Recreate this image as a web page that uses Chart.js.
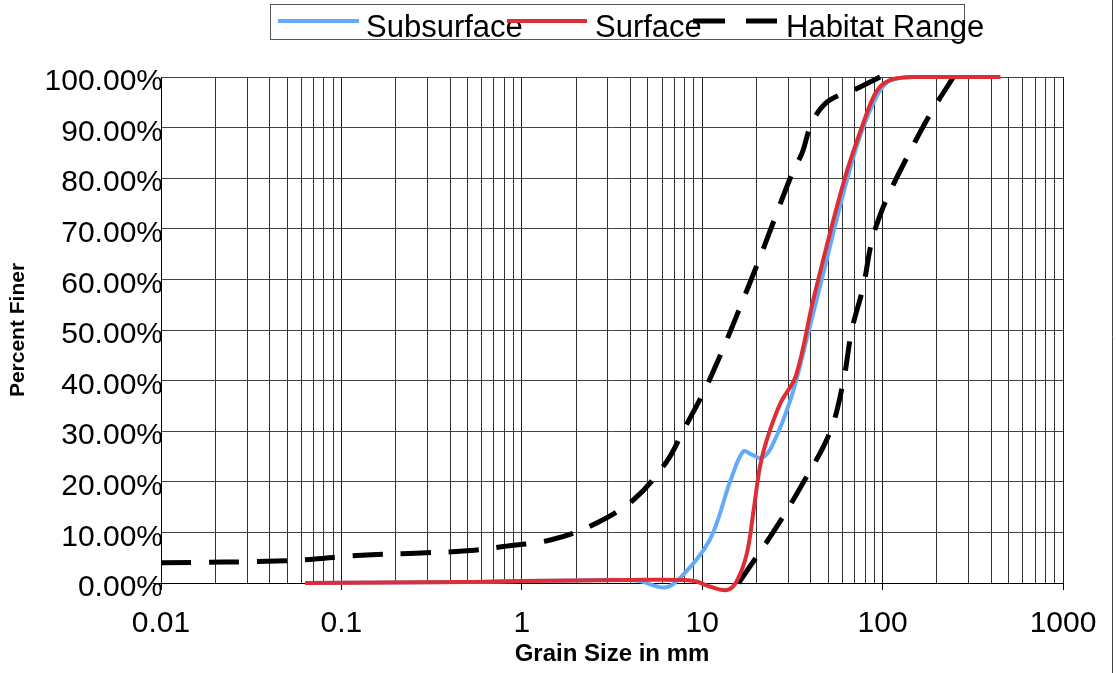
<!DOCTYPE html>
<html>
<head>
<meta charset="utf-8">
<title>Grain Size Distribution</title>
<script src="https://cdn.jsdelivr.net/npm/chart.js@4.4.1/dist/chart.umd.min.js"></script>
<style>
  html, body { margin: 0; padding: 0; background: #ffffff; overflow: hidden; }
  #wrap { width: 1116px; height: 673px; position: relative; }
  canvas { display: block; }
</style>
</head>
<body>
<div id="wrap"><canvas id="chart" width="1116" height="673"></canvas></div>
<script>
// Grain size (mm) and cumulative percent finer for each gradation curve
const subsurfaceSize = [0.063, 0.5, 1, 2, 4.3, 6.2, 7.5, 11, 14.4, 16.9, 19, 21.4, 24.3, 31.3, 38.7, 49, 60.7, 75, 92.7, 110, 150, 256];
const subsurfacePct  = [0, 0.2, 0.4, 0.5, 0.5, -0.9, 0.9, 8.5, 20.4, 26, 25.3, 24.7, 27, 36.9, 49.4, 63.9, 77.1, 88.3, 96.2, 99.3, 100, 100];

const surfaceSize = [0.063, 0.5, 1, 2, 4, 7.9, 9.3, 11, 13.7, 15.5, 17.7, 19.4, 20.9, 22.8, 27.1, 33.1, 41.3, 60.7, 78.2, 92.7, 110, 155, 450];
const surfacePct  = [0, 0.2, 0.4, 0.5, 0.6, 0.6, 0.3, -0.7, -1.4, 0.3, 5.9, 15.1, 23, 28.3, 35.5, 41, 56, 79.1, 90.9, 97.2, 99.4, 100, 100];

// Habitat range envelope: fine limit and coarse limit
const habitatFineSize = [0.01, 0.05, 0.13, 0.26, 0.52, 0.79, 1.44, 2.39, 4.15, 6.36, 7.8, 11, 20, 31.3, 35.8, 40.5, 49.8, 71.8, 96.8];
const habitatFinePct  = [4.0, 4.4, 5.5, 5.9, 6.4, 7.2, 8.5, 11.2, 16.4, 24, 29.9, 40.2, 62.6, 80.7, 85, 90.9, 95.2, 97.7, 100];

const habitatCoarseSize = [15.9, 24.8, 34.8, 51.2, 60.7, 67.5, 78.2, 85.1, 90.7, 105, 136, 183, 247];
const habitatCoarsePct  = [0, 10.1, 18.7, 29.9, 40, 50, 58.6, 65.9, 69.8, 75.8, 84, 92.6, 100];

// Axis tick labels
const xTickLabels = ['0.01', '0.1', '1', '10', '100', '1000'];
const yTickLabels = ['0.00%', '10.00%', '20.00%', '30.00%', '40.00%', '50.00%', '60.00%', '70.00%', '80.00%', '90.00%', '100.00%'];

const BLUE = '#64aafa';
const RED = '#de2d34';
const FONT = '"Liberation Sans", Arial, sans-serif';

const toPoints = (xs, ys) => xs.map((x, i) => ({ x: x, y: ys[i] }));
const isDecade = v => Math.abs(Math.log10(v) - Math.round(Math.log10(v))) < 1e-9;

const lineStyle = {
  showLine: true,
  pointRadius: 0,
  pointHoverRadius: 0,
  fill: false,
  clip: false,
  tension: 0.35
};

// Draws the boxed legend along the top and the outer frame line
const legendAndFrame = {
  id: 'legendAndFrame',
  afterDraw(chart) {
    const ctx = chart.ctx;
    ctx.save();

    // right frame line
    ctx.strokeStyle = '#444';
    ctx.lineWidth = 1;
    ctx.beginPath();
    ctx.moveTo(1112.5, 0);
    ctx.lineTo(1112.5, 673);
    ctx.stroke();

    // legend box
    ctx.strokeStyle = '#555';
    ctx.strokeRect(270.5, 4.5, 694, 35);

    const entries = [
      { ds: chart.data.datasets[0], x0: 278, x1: 359, tx: 366 },
      { ds: chart.data.datasets[1], x0: 507, x1: 587, tx: 595 },
      { ds: chart.data.datasets[2], x0: 693, x1: 777, tx: 786 }
    ];
    ctx.font = '31px ' + FONT;
    ctx.textBaseline = 'alphabetic';
    ctx.textAlign = 'left';
    entries.forEach(e => {
      ctx.strokeStyle = e.ds.borderColor;
      ctx.lineWidth = e.ds.borderWidth;
      ctx.setLineDash(e.ds.borderDash ? [32, 21] : []);
      ctx.lineCap = 'butt';
      ctx.beginPath();
      ctx.moveTo(e.x0, 21);
      ctx.lineTo(e.x1, 21);
      ctx.stroke();
      ctx.setLineDash([]);
      ctx.fillStyle = '#000';
      ctx.fillText(e.ds.label, e.tx, 37);
    });
    ctx.restore();
  }
};

new Chart(document.getElementById('chart'), {
  type: 'scatter',
  data: {
    datasets: [
      Object.assign({
        label: 'Subsurface',
        data: toPoints(subsurfaceSize, subsurfacePct),
        borderColor: BLUE,
        borderWidth: 4,
        order: 2
      }, lineStyle),
      Object.assign({
        label: 'Surface',
        data: toPoints(surfaceSize, surfacePct),
        borderColor: RED,
        borderWidth: 4,
        order: 1
      }, lineStyle),
      Object.assign({
        label: 'Habitat Range',
        data: toPoints(habitatFineSize, habitatFinePct),
        borderColor: '#000',
        borderWidth: 5,
        borderDash: [30, 18],
        order: 3
      }, lineStyle),
      Object.assign({
        label: 'Habitat Range',
        data: toPoints(habitatCoarseSize, habitatCoarsePct),
        borderColor: '#000',
        borderWidth: 5,
        borderDash: [30, 18],
        order: 4
      }, lineStyle)
    ]
  },
  options: {
    responsive: false,
    animation: false,
    devicePixelRatio: 1,
    events: [],
    layout: { padding: { top: 77, right: 53, left: 0, bottom: 0 } },
    plugins: {
      legend: { display: false },
      tooltip: { enabled: false }
    },
    scales: {
      x: {
        type: 'logarithmic',
        min: 0.01,
        max: 1000,
        afterBuildTicks(scale) {
          const ticks = [];
          for (let e = -2; e <= 3; e++) {
            for (let m = 1; m <= 9; m++) {
              const v = +(m * Math.pow(10, e)).toPrecision(3);
              if (v <= 1000) ticks.push({ value: v });
            }
          }
          scale.ticks = ticks;
        },
        afterFit(scale) { scale.height = 90; },
        border: { display: true, color: '#000', width: 1 },
        grid: {
          color: c => (c.tick && isDecade(c.tick.value)) ? '#1a1a1a' : '#333',
          lineWidth: 1,
          drawTicks: true,
          tickLength: 7,
          tickColor: c => (c.tick && isDecade(c.tick.value)) ? '#000' : 'rgba(0,0,0,0)'
        },
        ticks: {
          autoSkip: false,
          maxRotation: 0,
          minRotation: 0,
          padding: 16,
          color: '#000',
          font: { family: FONT, size: 30 },
          callback: v => isDecade(v) ? xTickLabels[Math.round(Math.log10(v)) + 2] : ''
        },
        title: {
          display: true,
          text: 'Grain Size in mm',
          color: '#000',
          font: { family: FONT, size: 24, weight: 'bold' },
          padding: { top: 0, bottom: 4 }
        }
      },
      y: {
        type: 'linear',
        min: 0,
        max: 100,
        afterFit(scale) { scale.width = 161; },
        border: { display: true, color: '#000', width: 1 },
        grid: {
          color: '#444',
          lineWidth: 1,
          drawTicks: true,
          tickLength: 8,
          tickColor: c => (c.tick && c.tick.value === 0) ? '#000' : 'rgba(0,0,0,0)'
        },
        ticks: {
          stepSize: 10,
          padding: -10,
          labelOffset: 5,
          color: '#000',
          font: { family: FONT, size: 30 },
          callback: (v, i) => yTickLabels[Math.round(v / 10)]
        },
        title: {
          display: true,
          text: 'Percent Finer',
          color: '#000',
          font: { family: FONT, size: 21, weight: 'bold' },
          padding: { top: 6, bottom: 0 }
        }
      }
    }
  },
  plugins: [legendAndFrame]
});
</script>
</body>
</html>
